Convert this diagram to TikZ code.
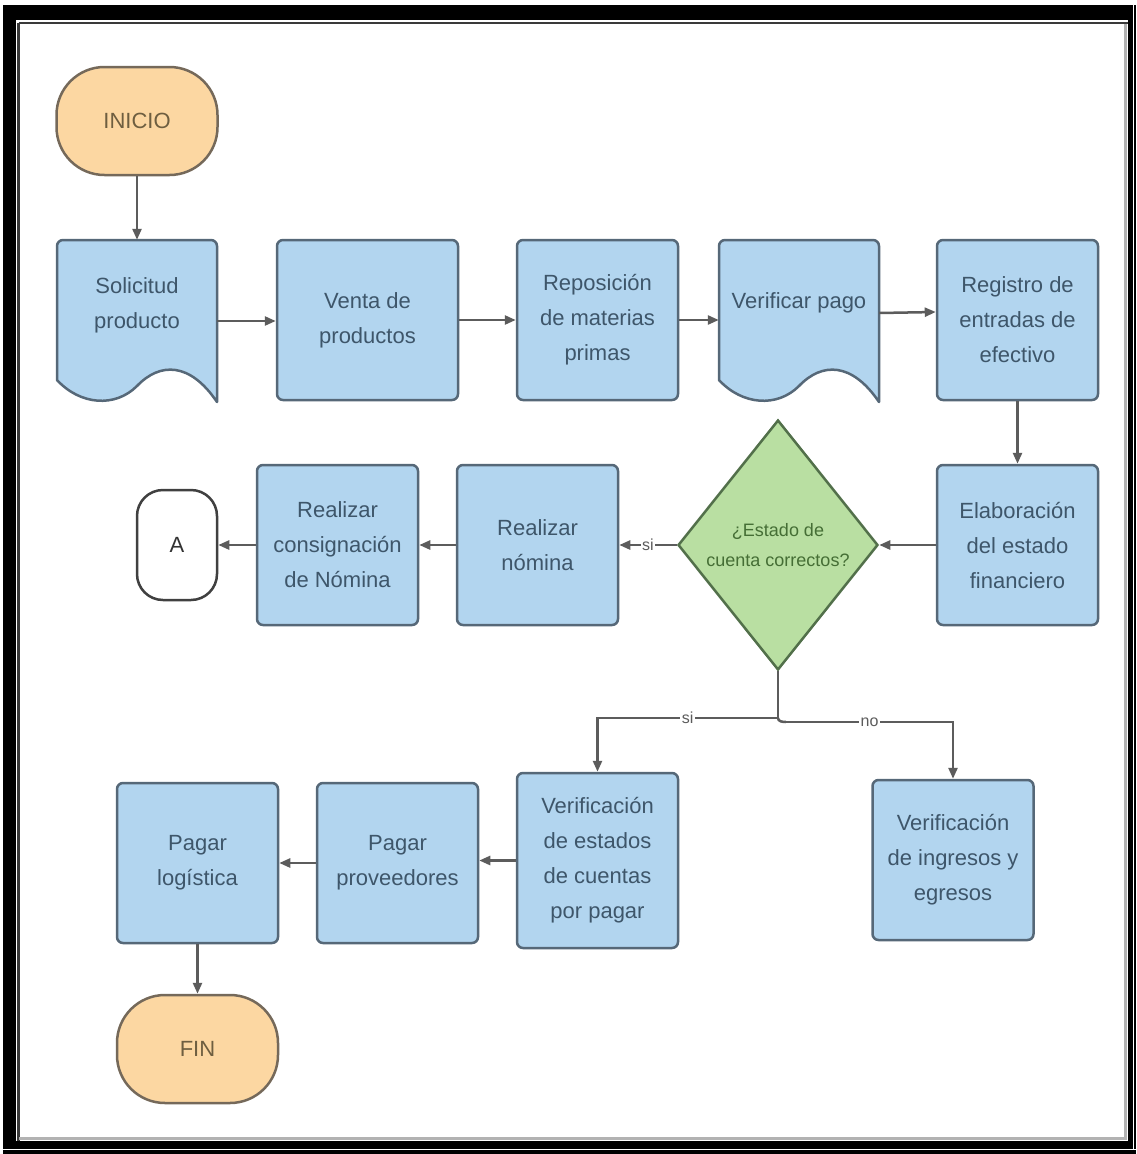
\documentclass[tikz,border=0pt]{standalone}
\usepackage{fontspec}
\setmainfont{Liberation Sans}
\usetikzlibrary{arrows.meta,shapes.geometric,calc}
\definecolor{boxfill}{HTML}{B2D5EF}
\definecolor{boxline}{HTML}{566878}
\definecolor{boxtext}{HTML}{3E566A}
\definecolor{termfill}{HTML}{FCD7A2}
\definecolor{termline}{HTML}{75695A}
\definecolor{termtext}{HTML}{6E5E40}
\definecolor{decfill}{HTML}{B9DFA2}
\definecolor{decline}{HTML}{52704A}
\definecolor{dectext}{HTML}{456E35}
\definecolor{arrowc}{HTML}{5C5C5C}
\definecolor{frameline}{HTML}{3A3A3A}
\begin{document}
\begin{tikzpicture}[x=1pt,y=-1pt,
  bigtext/.style={font=\fontsize{22}{35}\selectfont},
  proc/.style={draw=boxline,fill=boxfill,line width=2.5pt,rounded corners=6pt,
    minimum width=161pt,minimum height=160pt,inner sep=0pt,text=boxtext,align=center,bigtext},
  docshape/.style={draw=boxline,fill=boxfill,line width=2.5pt,line join=round},
  docnode/.style={draw=none,minimum width=160pt,minimum height=162pt,inner sep=0pt},
  doctext/.style={text=boxtext,align=center,bigtext,inner sep=0pt},
  term/.style={draw=termline,fill=termfill,line width=2.5pt,rounded corners=48pt,
    minimum width=161pt,minimum height=108pt,inner sep=0pt,text=termtext,bigtext},
  conn/.style={draw=black!75,fill=white,line width=2.5pt,rounded corners=26pt,
    minimum width=80pt,minimum height=110pt,inner sep=0pt,text=black!80,bigtext},
  dec/.style={diamond,draw=decline,fill=decfill,line width=2.5pt,minimum width=200pt,
    minimum height=250pt,inner sep=0pt,text=dectext,align=center,
    font=\fontsize{18}{30}\selectfont},
  arr/.style={draw=arrowc,line width=2.5pt,-{Triangle[length=11pt,width=9pt]}},
  line/.style={draw=arrowc,line width=2.5pt},
  lbl/.style={fill=white,inner sep=1.5pt,text=arrowc,font=\fontsize{16}{18}\selectfont}
]
\useasboundingbox (0,0) rectangle (1136,1154);
% frame
\fill[white] (0,0) rectangle (1136,1154);
\fill[black] (3,5) rectangle (1136,1154);
\fill[white] (16,20) rectangle (1128,1141);
\draw[frameline,line width=2.5pt] (18.5,23) -- (1128,23);
\draw[frameline,line width=2.5pt] (18.5,23) -- (18.5,1141);
\draw[gray!60,line width=3pt] (1125,24) -- (1125,1138) -- (19,1138);
\draw[white,line width=1.5pt] (3,1149.5) -- (1136,1149.5);
\draw[white,line width=1.2pt] (1133.5,5) -- (1133.5,1149.5);

% document shapes
\draw[docshape] (57,380) -- (57,246) arc(180:270:6) -- (211,240) arc(270:360:6) -- (217,402)
  .. controls (190,362) and (160,362) .. (137,386)
  .. controls (115,408) and (80,405) .. cycle;
\draw[docshape] (719,380) -- (719,246) arc(180:270:6) -- (873,240) arc(270:360:6) -- (879,402)
  .. controls (852,362) and (822,362) .. (799,386)
  .. controls (777,408) and (742,405) .. cycle;

% nodes
\node[term] (ini) at (137,121) {INICIO};
\node[docnode] (sol) at (137,321) {};
\node[doctext] (solt) at (137,305) {Solicitud\\producto};
\node[proc, minimum width=181pt] (ven) at (367.5,320) {Venta de\\productos};
\node[proc] (rep) at (597.5,320) {Reposición\\de materias\\primas};
\node[docnode] (ver) at (799,321) {};
\node[doctext] (vert) at (799,303) {Verificar pago};
\node[proc] (reg) at (1017.5,320) {Registro de\\entradas de\\efectivo};
\node[proc] (ela) at (1017.5,545) {Elaboración\\del estado\\financiero};
\node[dec] (dec) at (778,545) {¿Estado de\\cuenta correctos?};
\node[proc] (nom) at (537.5,545) {Realizar\\nómina};
\node[proc] (con) at (337.5,545) {Realizar\\consignación\\de Nómina};
\node[conn] (A) at (177,545) {A};
\node[proc, minimum height=175pt] (vcp) at (597.5,860.5) {Verificación\\de estados\\de cuentas\\por pagar};
\node[proc] (vie) at (953,860) {Verificación\\de ingresos y\\egresos};
\node[proc] (ppr) at (397.5,863) {Pagar\\proveedores};
\node[proc] (plo) at (197.5,863) {Pagar\\logística};
\node[term] (fin) at (197.5,1049) {FIN};
\coordinate (br) at (778,718);
\coordinate (brn) at (786,722);

% connectors
\draw[arr] (ini.south) -- (sol.north);
\draw[arr] (sol.east) -- (ven.west |- sol.east);
\draw[arr] (ven.east) -- (rep.west);
\draw[arr] (rep.east) -- (ver.west |- rep.east);
\draw[arr] ([yshift=8pt]ver.east) -- ([yshift=8pt]reg.west);
\draw[arr] (reg.south) -- (ela.north);
\draw[arr] (ela.west) -- (dec.east);
\draw[arr] (dec.west) -- node[lbl,pos=0.5]{si} (nom.east);
\draw[arr] (nom.west) -- (con.east);
\draw[arr] (con.west) -- (A.east);
\draw[line] (dec.south) -- (br);
\draw[arr] (br) -| node[lbl,pos=0.25]{si} (vcp.north);
\draw[line] (br) to[out=-90,in=180] (brn);
\draw[arr] (brn) -| node[lbl,pos=0.25]{no} (vie.north);
\draw[arr] (vcp.west) -- (vcp.west -| ppr.east);
\draw[arr] (ppr.west) -- (plo.east);
\draw[arr] (plo.south) -- (fin.north);
\end{tikzpicture}
\end{document}
